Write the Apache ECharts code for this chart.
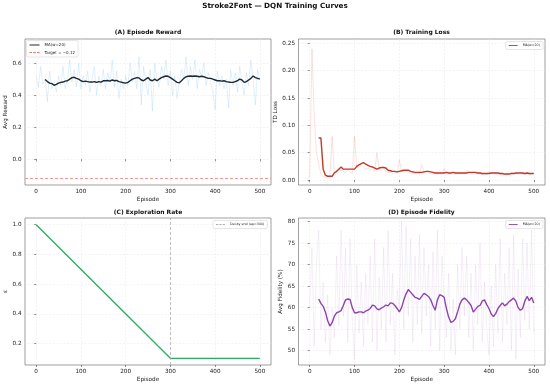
<!DOCTYPE html>
<html><head><meta charset="utf-8">
<script src="https://cdn.jsdelivr.net/npm/echarts@6/dist/echarts.min.js"></script>
<style>html,body{margin:0;padding:0;background:#fff}#c{width:550px;height:387px}</style>
</head><body><div id="c"></div>
<script>
// ---------- data ----------
const rawEpisodes = []; for (let e = 0; e <= 500; e += 5) rawEpisodes.push(e);
const maEpisodes = []; for (let e = 20; e <= 500; e += 5) maEpisodes.push(e);
const xTicks = [0, 100, 200, 300, 400, 500];

const rewardRaw = [
0.52,0.45,0.58,0.47,0.50,0.36,0.55,0.44,0.48,0.42,
0.52,0.46,0.58,0.44,0.50,0.62,0.48,0.56,0.45,0.60,
0.44,0.52,0.46,0.55,0.42,0.50,0.58,0.40,0.52,0.46,
0.56,0.44,0.54,0.48,0.62,0.45,0.55,0.38,0.50,0.44,
0.52,0.46,0.60,0.48,0.55,0.44,0.64,0.34,0.58,0.48,
0.40,0.56,0.30,0.60,0.50,0.45,0.58,0.50,0.62,0.46,
0.55,0.40,0.52,0.38,0.48,0.56,0.50,0.64,0.46,0.58,
0.50,0.62,0.44,0.56,0.52,0.60,0.46,0.54,0.48,0.42,
0.31,0.55,0.46,0.52,0.44,0.50,0.32,0.56,0.46,0.54,
0.42,0.58,0.48,0.40,0.54,0.46,0.62,0.50,0.34,0.56,
0.50];
const rewardMA = [
0.498,0.485,0.475,0.472,0.462,0.468,0.475,0.480,0.482,0.488,
0.490,0.500,0.510,0.512,0.505,0.500,0.490,0.485,0.488,0.485,
0.482,0.482,0.485,0.480,0.485,0.482,0.490,0.490,0.492,0.488,
0.495,0.490,0.492,0.485,0.482,0.478,0.475,0.480,0.490,0.500,
0.505,0.510,0.508,0.495,0.490,0.500,0.510,0.495,0.490,0.500,
0.490,0.500,0.510,0.515,0.520,0.518,0.510,0.500,0.490,0.480,
0.478,0.490,0.505,0.515,0.518,0.520,0.518,0.520,0.518,0.515,
0.518,0.515,0.510,0.505,0.505,0.500,0.495,0.490,0.490,0.488,
0.490,0.485,0.482,0.480,0.480,0.485,0.490,0.500,0.495,0.480,
0.485,0.495,0.505,0.520,0.510,0.505,0.500];
const rewardTarget = -0.12;
const rewardTicks = [0.0, 0.2, 0.4, 0.6];

const lossRaw = [
0.003,0.240,0.120,0.050,0.030,0.012,0.006,0.005,0.006,0.008,
0.080,0.012,0.015,0.020,0.018,0.016,0.014,0.018,0.015,0.012,
0.080,0.022,0.025,0.028,0.024,0.020,0.022,0.018,0.020,0.016,
0.050,0.020,0.018,0.020,0.016,0.014,0.015,0.012,0.014,0.013,
0.037,0.016,0.015,0.017,0.014,0.012,0.013,0.011,0.012,0.012,
0.028,0.014,0.015,0.013,0.012,0.011,0.012,0.011,0.012,0.011,
0.021,0.012,0.011,0.012,0.013,0.011,0.012,0.011,0.012,0.011,
0.018,0.013,0.012,0.013,0.012,0.011,0.011,0.010,0.011,0.010,
0.016,0.011,0.012,0.011,0.011,0.010,0.010,0.010,0.009,0.010,
0.015,0.011,0.012,0.011,0.012,0.011,0.010,0.011,0.010,0.011,
0.012];
const lossMA = [
0.077,0.077,0.020,0.009,0.007,0.007,0.007,0.013,0.016,0.020,
0.024,0.020,0.020,0.020,0.020,0.020,0.020,0.025,0.028,0.030,
0.032,0.029,0.027,0.025,0.024,0.022,0.020,0.022,0.023,0.023,
0.022,0.018,0.017,0.016,0.016,0.015,0.016,0.017,0.018,0.018,
0.018,0.016,0.015,0.014,0.014,0.014,0.014,0.015,0.016,0.016,
0.015,0.014,0.013,0.013,0.013,0.013,0.013,0.014,0.013,0.013,
0.014,0.013,0.013,0.013,0.013,0.013,0.013,0.014,0.014,0.014,
0.014,0.013,0.013,0.012,0.012,0.012,0.012,0.013,0.013,0.013,
0.013,0.012,0.012,0.011,0.011,0.011,0.012,0.012,0.013,0.013,
0.013,0.013,0.012,0.013,0.012,0.012,0.012];
const lossTicks = [0.00, 0.05, 0.10, 0.15, 0.20, 0.25];

const epsEpisodes = [0, 300, 500];
const epsValues = [1.0, 0.1, 0.1];
const decayEnd = 300;
const epsTicks = [0.2, 0.4, 0.6, 0.8, 1.0];

const fidRaw = [
60,74,51,70,78,55,66,52,63,49,
60,53,72,56,78,58,74,52,76,57,
48,70,54,66,51,68,56,72,52,76,
50,67,55,74,52,78,56,68,49,64,
60,80,55,79,58,76,52,72,56,77,
54,74,58,70,51,73,55,78,50,72,
62,53,68,50,62,49,70,55,74,58,
72,53,68,50,70,56,75,52,66,55,
49,65,51,70,54,76,52,68,56,74,
50,77,48,69,53,76,57,75,55,78,
54];
const fidMA = [
62.0,61.0,60.3,59.0,57.0,55.7,56.5,58.0,58.8,59.0,
59.3,60.5,61.8,62.0,61.9,60.0,58.8,58.8,59.0,59.0,
58.8,59.2,59.4,59.8,60.6,60.4,59.7,59.5,59.9,60.2,
60.6,60.4,61.1,61.0,60.5,59.8,59.0,60.0,61.8,63.2,
64.2,63.6,63.0,62.4,62.2,61.9,62.6,63.3,63.0,62.6,
61.8,60.5,59.4,61.8,63.0,62.8,62.4,59.8,57.8,56.6,
56.8,57.4,59.0,60.8,61.8,62.2,61.8,61.2,60.5,59.0,
59.6,60.3,60.5,61.5,61.8,60.7,59.8,58.5,57.9,58.6,
59.8,60.5,61.1,60.4,60.8,61.4,61.8,62.2,61.5,60.0,
59.4,59.8,61.5,62.6,61.6,62.4,61.1];
const fidTicks = [50, 55, 60, 65, 70, 75, 80];

// ---------- helpers ----------
const zip = (xs, ys) => ys.map((v, i) => [xs[i], v]);
const FONT = 'DejaVu Sans';
const TXT = '#222';
const TICK_FS = 5.7;
const LINE_ICON = 'path://M0,0H20V2H0Z';
const DASH_ICON = 'path://M0,0H5V2H0Z M7.5,0H12.5V2H7.5Z M15,0H20V2H15Z';
const grids = [
  {left: 25, top: 39, width: 246, height: 146},
  {left: 298.5, top: 39, width: 246.5, height: 146},
  {left: 25, top: 218, width: 246, height: 147},
  {left: 298.5, top: 218, width: 246.5, height: 147}
];
function xAx(i) {
  return {
    type: 'value', gridIndex: i, min: -25, max: 525,
    name: 'Episode', nameLocation: 'middle', nameGap: 12,
    nameTextStyle: {fontFamily: FONT, fontSize: TICK_FS, color: TXT},
    axisLine: {show: false},
    axisTick: {show: true, length: 2, customValues: xTicks, lineStyle: {color: '#444', width: 0.6}},
    axisLabel: {customValues: xTicks, fontFamily: FONT, fontSize: TICK_FS, color: TXT, margin: 3.5},
    splitLine: {show: true, lineStyle: {color: '#e6e6e6', width: 0.5, type: [2, 1.5]}}
  };
}
function yAx(i, min, max, ticks, name, fmt, gap) {
  return {
    type: 'value', gridIndex: i, min: min, max: max,
    name: name, nameLocation: 'middle', nameGap: gap, nameRotate: 90,
    nameTextStyle: {fontFamily: FONT, fontSize: TICK_FS, color: TXT},
    axisLine: {show: false},
    axisTick: {show: true, length: 2, customValues: ticks, lineStyle: {color: '#444', width: 0.6}},
    axisLabel: {customValues: ticks, fontFamily: FONT, fontSize: TICK_FS, color: TXT, margin: 3.5, formatter: fmt},
    splitLine: {show: true, lineStyle: {color: '#e6e6e6', width: 0.5, type: [2, 1.5]}}
  };
}
function line(name, i, data, color, width, z) {
  return {
    type: 'line', name: name, xAxisIndex: i, yAxisIndex: i, data: data,
    showSymbol: false, symbol: 'none', animation: false, silent: true, z: z,
    lineStyle: {color: color, width: width}, itemStyle: {color: color}
  };
}
function panelTitle(text, cx, top) {
  return {text: text, left: cx, top: top, textAlign: 'center', padding: 0,
    textStyle: {fontFamily: FONT, fontSize: 6, fontWeight: 'bold', color: '#111'}};
}
function legendBox(data, pos, fontSize, extra) {
  return Object.assign({
    data: data, orient: 'vertical', selectedMode: false,
    itemWidth: 9, itemHeight: 1, itemGap: 3.5,
    padding: [2.5, 3, 2.5, 3], borderColor: '#ccc', borderWidth: 0.5, borderRadius: 1.5,
    backgroundColor: 'rgba(255,255,255,0.85)',
    textStyle: {fontFamily: FONT, fontSize: fontSize, color: '#222'},
    formatter: function (n) { return n.indexOf('MA') === 0 ? 'MA(w=20)' : n; }
  }, pos, extra || {});
}

const chart = echarts.init(document.getElementById('c'), null, {renderer: 'canvas'});
const option = {
  backgroundColor: '#fff',
  animation: false,
  title: [
    {text: 'Stroke2Font — DQN Training Curves', left: 275, top: 3, textAlign: 'center', padding: 0,
      textStyle: {fontFamily: FONT, fontSize: 7.2, fontWeight: 'bold', color: '#111'}},
    panelTitle('(A) Episode Reward', 148, 29.5),
    panelTitle('(B) Training Loss', 421.5, 29.5),
    panelTitle('(C) Exploration Rate', 148, 209),
    panelTitle('(D) Episode Fidelity', 421.5, 209)
  ],
  grid: grids.map(g => Object.assign({show: true, borderColor: '#777', borderWidth: 0.7, backgroundColor: 'transparent', containLabel: false}, g)),
  xAxis: [xAx(0), xAx(1), xAx(2), xAx(3)],
  yAxis: [
    yAx(0, -0.161, 0.751, rewardTicks, 'Avg Reward', v => v.toFixed(1), 9),
    yAx(1, -0.009, 0.258, lossTicks, 'TD Loss', v => v.toFixed(2), 12),
    yAx(2, 0.055, 1.045, epsTicks, 'ε', v => v.toFixed(1), 11),
    yAx(3, 46.65, 80.85, fidTicks, 'Avg Fidelity (%)', v => String(v), 10.5)
  ],
  legend: [
    legendBox([{name: 'MA reward', icon: LINE_ICON}, {name: 'Target = −0.12', icon: DASH_ICON}],
      {left: 26.5, top: 40.5}, 4, {itemWidth: 10, itemHeight: 1.2, itemGap: 3.5}),
    legendBox([{name: 'MA loss', icon: LINE_ICON}], {right: 7, top: 41.5}, 3.3),
    legendBox([{name: 'Decay end (ep=300)', icon: DASH_ICON}], {left: 213, top: 220.5}, 3.3),
    legendBox([{name: 'MA fid', icon: LINE_ICON}], {right: 7, top: 220.5}, 3.3)
  ],
  series: [
    line('raw reward', 0, zip(rawEpisodes, rewardRaw), 'rgba(93,173,226,0.3)', 0.6, 1),
    line('MA reward', 0, zip(maEpisodes, rewardMA), '#1c2833', 1.4, 3),
    Object.assign(line('Target = −0.12', 0, [], '#ec7063', 0.8, 2), {
      lineStyle: {color: '#ec7063', width: 0.8, type: [3, 2]},
      markLine: {silent: true, symbol: 'none', animation: false, label: {show: false},
        lineStyle: {color: '#ec7063', width: 0.7, type: [3, 2]}, data: [{yAxis: rewardTarget}]}
    }),
    line('raw loss', 1, zip(rawEpisodes, lossRaw), 'rgba(231,76,60,0.28)', 0.6, 1),
    line('MA loss', 1, zip(maEpisodes, lossMA), '#c0392b', 1.4, 3),
    line('epsilon', 2, zip(epsEpisodes, epsValues), '#27ae60', 1.3, 3),
    Object.assign(line('Decay end (ep=300)', 2, [], '#b0b0b0', 0.8, 2), {
      lineStyle: {color: '#b0b0b0', width: 0.8, type: [3, 2]},
      markLine: {silent: true, symbol: 'none', animation: false, label: {show: false},
        lineStyle: {color: '#b0b0b0', width: 0.8, type: [3, 2]}, data: [{xAxis: decayEnd}]}
    }),
    line('raw fid', 3, zip(rawEpisodes, fidRaw), 'rgba(155,89,182,0.16)', 0.6, 1),
    line('MA fid', 3, zip(maEpisodes, fidMA), '#8e44ad', 1.4, 3)
  ]
};
chart.setOption(option);
</script>
</body></html>
